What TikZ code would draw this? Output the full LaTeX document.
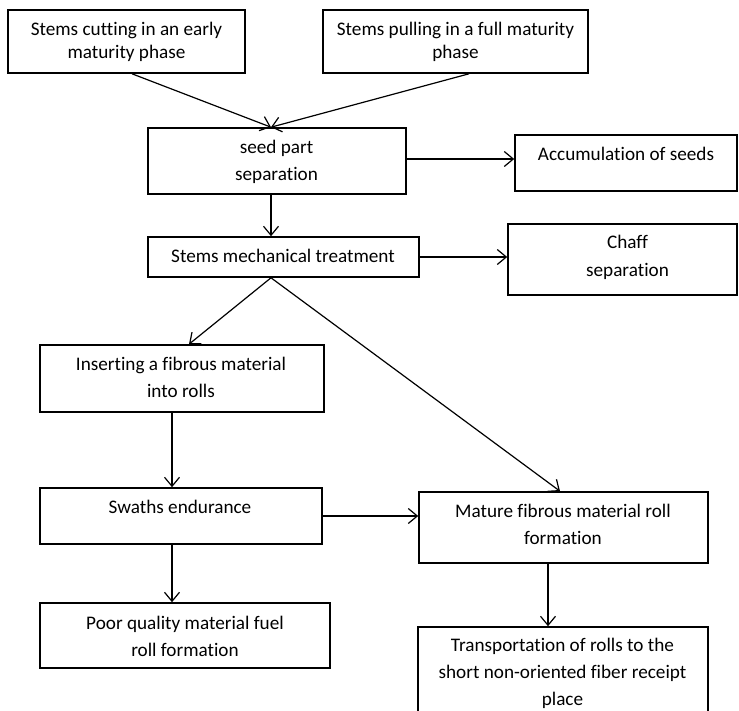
\documentclass[tikz,border=0pt]{standalone}
\usepackage{fontspec}
\setmainfont{Carlito}[RawFeature=-liga]
\usetikzlibrary{arrows.meta,fit}

\begin{document}
\begin{tikzpicture}[
		x=0.5pt, y=-0.5pt,
		box/.style={draw, line width=0.8pt, inner sep=0pt, fit={#1}},
		txt/.style={align=center, font=\fontsize{9.6}{13.5}\selectfont},
		toptxt/.style={txt, font=\fontsize{9.6}{11.5}\selectfont},
		arr/.style={-{Straight Barb[length=4.5pt,width=7.5pt]}, line width=0.6pt}
	]
	\clip (0,0) rectangle (739,711);
	\fill[white] (0,0) rectangle (739,711);
	\node[box={(8,10) (245,73)}] (cut) {};
	\node[box={(323,10) (588,73)}] (pull) {};
	\node[box={(148,128) (406,194)}] (seed) {};
	\node[box={(515,135) (737,191)}] (acc) {};
	\node[box={(148,237) (419,277)}] (mech) {};
	\node[box={(508,224) (737,295)}] (chaff) {};
	\node[box={(40,345) (324,412)}] (ins) {};
	\node[box={(40,488) (322,544)}] (swath) {};
	\node[box={(40,603) (330,668)}] (poor) {};
	\node[box={(419,492) (708,563)}] (mature) {};
	\node[box={(418,627) (708,730)}] (trans) {};
	\node[toptxt] (cut-t) at (126.5,41.5) {Stems cutting in an early\\maturity phase};
	\node[toptxt] (pull-t) at (455.5,41.5) {Stems pulling in a full maturity\\phase};
	\node[txt] (seed-t) at (276.5,161.5) {seed part\\separation};
	\node[txt] (acc-t) at (626,154) {Accumulation of seeds};
	\node[txt] (mech-t) at (283,256) {Stems mechanical treatment};
	\node[txt, font=\fontsize{9.6}{14}\selectfont] (chaff-t) at (627.5,257) {Chaff\\separation};
	\node[txt] (ins-t) at (181,377.5) {Inserting a fibrous material\\into rolls};
	\node[txt] (swath-t) at (180,507) {Swaths endurance};
	\node[txt] (poor-t) at (185,636) {Poor quality material fuel\\roll formation};
	\node[txt] (mature-t) at (563,524.5) {Mature fibrous material roll\\formation};
	\node[txt] (trans-t) at (562.5,673.5) {Transportation of rolls to the\\short non-oriented fiber receipt\\place};
	\draw[arr] ([xshift=2.75pt]cut.south) -- ([xshift=-3pt]seed.north);
	\draw[arr] ([xshift=6.75pt]pull.south) -- ([xshift=-3pt]seed.north);
	\draw[arr] ([yshift=1pt]seed.east) -- ([yshift=1pt]seed.east -| acc.west);
	\draw[arr] ([xshift=-3pt]seed.south) -- ([xshift=-3pt]seed.south |- mech.north);
	\draw[arr] (mech.east) -- (mech.east -| chaff.west);
	\draw[arr] ([xshift=-6.25pt]mech.south) -- ([xshift=3.5pt]ins.north);
	\draw[arr] ([xshift=-6.25pt]mech.south) -- ([xshift=-1.75pt]mature.north);
	\draw[arr] ([xshift=-5pt]ins.south) -- ([xshift=-5pt]ins.south |- swath.north);
	\draw[arr] (swath.east) -- (swath.east -| mature.west);
	\draw[arr] ([xshift=-4.5pt]swath.south) -- ([xshift=-4.5pt]swath.south |- poor.north);
	\draw[arr] ([xshift=-7.75pt]mature.south) -- ([xshift=-7.75pt]mature.south |- trans.north);
\end{tikzpicture}
\end{document}
